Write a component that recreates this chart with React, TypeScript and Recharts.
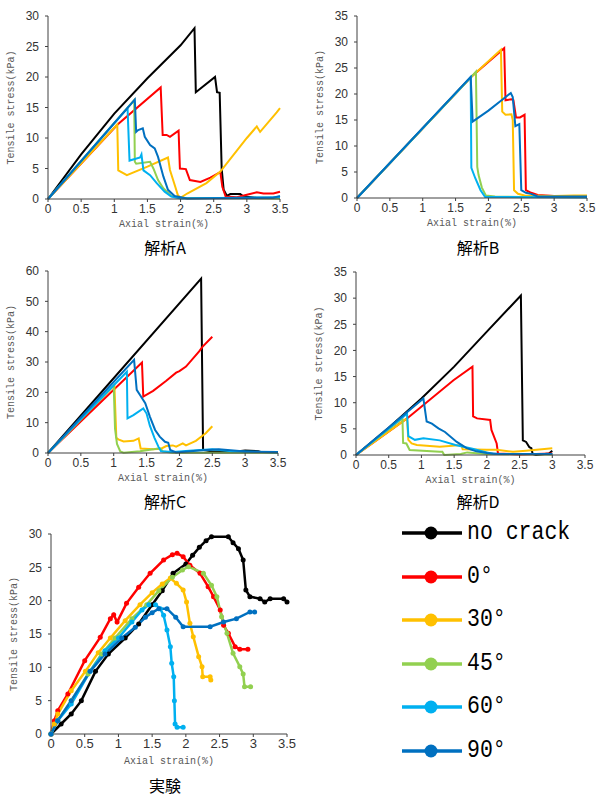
import React from "react";
import { LineChart, Line, XAxis, YAxis } from "recharts";

type Pt = [number, number];

// 解析A
const aNoCrack: Pt[] = [[0, 0], [0.5, 7.3], [1.0, 14], [1.5, 19.8], [2.0, 25.2], [2.21, 28], [2.23, 17.5], [2.52, 20], [2.55, 17.5], [2.59, 17.4], [2.62, 5], [2.65, 1.5], [2.7, 0.5], [2.75, 0.8], [2.9, 0.8], [2.95, 0.4], [3.15, 0.2], [3.5, 0.2]];
const aDeg0: Pt[] = [[0, 0], [1.05, 12.2], [1.7, 18.3], [1.73, 10.5], [1.79, 10.5], [1.84, 10.2], [1.97, 11.2], [1.99, 5], [2.08, 4.9], [2.14, 3.1], [2.3, 2.8], [2.45, 3.5], [2.6, 4.4], [2.63, 2], [2.68, 0.4], [2.85, 0.3], [3.0, 0.7], [3.15, 1.1], [3.25, 0.9], [3.4, 0.9], [3.5, 1.2]];
const aDeg30: Pt[] = [[0, 0], [1.045, 12.2], [1.06, 4.7], [1.19, 3.9], [1.5, 5.3], [1.81, 6.8], [1.84, 4.75], [1.92, 2.0], [1.96, 0.6], [2.0, 0.2], [2.1, 0.9], [2.39, 2.6], [2.6, 4.5], [3.0, 10], [3.15, 11.9], [3.2, 11.0], [3.45, 14.2], [3.5, 14.9]];
const aDeg45: Pt[] = [[0, 0], [1.3, 16.2], [1.31, 6.1], [1.33, 5.8], [1.54, 6.1], [1.59, 5.0], [1.66, 3.1], [1.74, 1.75], [1.86, 0.5], [2.0, 0.2], [3.5, 0.1]];
const aDeg60: Pt[] = [[0, 0], [1.2, 14.9], [1.23, 6.3], [1.39, 6.8], [1.41, 7.3], [1.44, 4.7], [1.54, 3.9], [1.64, 2.6], [1.76, 1.2], [1.86, 0.4], [2.0, 0.1], [3.5, 0.3]];
const aDeg90: Pt[] = [[0, 0], [1.31, 16.3], [1.33, 11], [1.36, 11.3], [1.43, 11.6], [1.46, 10.2], [1.54, 8.85], [1.61, 8.3], [1.66, 6.9], [1.74, 3.7], [1.81, 1.5], [1.91, 0.5], [2.1, 0.1], [3.4, 0.2], [3.5, 0.5]];

// 解析B
const bNoCrack: Pt[] = [];
const bDeg0: Pt[] = [[0, 0], [1.74, 23.3], [2.24, 28.8], [2.26, 18.8], [2.35, 19], [2.38, 18.8], [2.42, 15.5], [2.48, 15.5], [2.55, 16], [2.57, 1.5], [2.65, 1], [2.75, 0.6], [3.0, 0.4], [3.5, 0.4]];
const bDeg30: Pt[] = [[0, 0], [1.74, 23.3], [2.19, 28.5], [2.21, 16.6], [2.26, 16], [2.35, 16.1], [2.37, 15], [2.39, 1.5], [2.45, 0.8], [2.55, 0.5], [3.0, 0.4], [3.3, 0.5], [3.5, 0.5]];
const bDeg45: Pt[] = [[0, 0], [1.74, 23.3], [1.81, 24.3], [1.83, 6], [1.85, 4.4], [1.9, 2], [1.96, 0.5], [2.1, 0.3], [2.5, 0.2], [3.5, 0.2]];
const bDeg60: Pt[] = [[0, 0], [1.73, 23.2], [1.74, 5.8], [1.8, 3.8], [1.88, 1.5], [1.95, 0.2], [2.2, 0.2], [3.5, 0.1]];
const bDeg90: Pt[] = [[0, 0], [1.73, 23.3], [1.76, 14.7], [2.0, 16.8], [2.2, 18.8], [2.34, 20.2], [2.37, 19.4], [2.41, 13.8], [2.47, 14.2], [2.5, 1.5], [2.57, 1], [2.65, 0.8], [2.75, 0.3], [3.5, 0.3]];

// 解析C
const cNoCrack: Pt[] = [[0, 0], [2.33, 57.5], [2.36, 1], [2.5, 0.5], [2.9, 0.6], [3.0, 0.8], [3.2, 0.6], [3.25, 0.3], [3.5, 0.2]];
const cDeg0: Pt[] = [[0, 0], [1.43, 29.8], [1.45, 18.6], [1.6, 20.5], [1.8, 23.8], [1.95, 26.5], [2.0, 27], [2.1, 28.5], [2.3, 33.5], [2.35, 35], [2.5, 38.3]];
const cDeg30: Pt[] = [[0, 0], [1.01, 22.4], [1.04, 5], [1.07, 4.5], [1.15, 3.8], [1.3, 4], [1.38, 4.8], [1.41, 1.5], [1.6, 1.2], [1.72, 1.4], [1.8, 2.3], [1.9, 2.5], [1.95, 2.1], [2.05, 3.2], [2.1, 2.5], [2.25, 4], [2.4, 6.5], [2.5, 8.8]];
const cDeg45: Pt[] = [[0, 0], [1.0, 22.2], [1.02, 8], [1.05, 3], [1.1, 0.5], [1.15, 0.1], [1.4, 0.6], [1.6, 1.2], [1.7, 1.6], [1.75, 0.5], [1.9, 0.1], [3.5, 0.1]];
const cDeg60: Pt[] = [[0, 0], [1.2, 26.8], [1.21, 11.4], [1.3, 12.5], [1.45, 14.7], [1.5, 13], [1.55, 9], [1.62, 5], [1.68, 2.1], [1.72, 0.6], [1.9, 0.3], [2.2, 0.8], [2.5, 1.2], [2.8, 0.6], [3.5, 0.2]];
const cDeg90: Pt[] = [[0, 0], [1.31, 30.7], [1.35, 20.8], [1.4, 19.1], [1.48, 16.4], [1.55, 12], [1.63, 7.6], [1.7, 5.4], [1.78, 3.7], [1.83, 3.4], [1.86, 1.0], [1.95, 0.2], [2.3, 0.8], [2.6, 1.2], [3.0, 0.5], [3.5, 0.3]];

// 解析D
const dNoCrack: Pt[] = [[0, 0], [0.5, 5.2], [1.0, 10.8], [1.5, 16.9], [2.0, 23.6], [2.52, 30.5], [2.55, 2.8], [2.6, 2.5], [2.65, 1.5], [2.68, 1.3], [2.7, 0.2], [2.75, 0], [2.95, 0.3], [3.0, 0.8]];
const dDeg0: Pt[] = [[0, 0], [0.78, 7.0], [1.49, 14.3], [1.78, 16.9], [1.79, 7.4], [1.85, 7], [2.05, 6.7], [2.07, 4.8], [2.15, 2.2], [2.17, 0.3], [2.5, 0.1], [3.0, 0.3]];
const dDeg30: Pt[] = [[0, 0], [0.78, 7.0], [0.8, 2.9], [0.85, 2.2], [0.93, 1.9], [1.28, 1.6], [1.61, 1.9], [1.63, 1.1], [2.0, 1.0], [2.15, 1], [2.4, 0.6], [2.6, 0.8], [3.0, 1.3]];
const dDeg45: Pt[] = [[0, 0], [0.71, 7.0], [0.72, 2.3], [0.77, 2.2], [0.82, 0.95], [1.28, 0.6], [1.32, 0.6], [1.35, 0], [1.6, 0.2], [1.7, 0.5], [2.0, 0.2], [3.0, 0.1]];
const dDeg60: Pt[] = [[0, 0], [0.78, 7.9], [0.8, 3.6], [0.9, 2.9], [1.03, 3.2], [1.28, 2.8], [1.52, 1.9], [1.78, 1.2], [2.0, 0.5], [2.1, 0.2], [3.0, 0.2]];
const dDeg90: Pt[] = [[0, 0], [1.03, 10.8], [1.08, 6.4], [1.16, 6.0], [1.26, 5.1], [1.36, 4.4], [1.54, 2.5], [1.69, 1.3], [1.84, 0.7], [2.0, 0.4], [2.2, 0.2], [3.0, 0.2]];

// 実験
const eNoCrack: Pt[] = [[0, 0], [0.15, 1.5], [0.3, 3], [0.45, 5], [0.66, 9.4], [0.85, 12], [1.1, 14.4], [1.3, 16.5], [1.5, 19.4], [1.65, 21.5], [1.81, 24.1], [2.0, 25.5], [2.1, 26.8], [2.2, 28], [2.3, 29], [2.38, 29.6], [2.63, 29.6], [2.7, 28.7], [2.78, 27.8], [2.85, 26.1], [2.89, 21.6], [2.95, 20.6], [3.1, 20.3], [3.17, 19.8], [3.25, 20.3], [3.45, 20.3], [3.5, 19.8]];
const eDeg0: Pt[] = [[0, 0], [0.05, 2], [0.1, 3.5], [0.25, 6], [0.5, 11], [0.73, 14.5], [0.88, 17.3], [0.93, 17.9], [0.98, 16.8], [1.12, 19.6], [1.3, 22], [1.47, 24.1], [1.67, 26.1], [1.8, 26.9], [1.87, 27.1], [1.96, 26.6], [2.06, 25.3], [2.21, 24.1], [2.33, 22.1], [2.41, 20.6], [2.51, 18.6], [2.56, 16.3], [2.63, 15.1], [2.73, 13.1], [2.8, 12.7], [2.92, 12.7]];
const eDeg30: Pt[] = [[0, 0], [0.05, 1.5], [0.1, 3], [0.3, 6.5], [0.51, 9.4], [0.7, 12.2], [0.88, 14.4], [1.1, 17], [1.32, 19.4], [1.5, 21.2], [1.65, 22.5], [1.77, 23.4], [1.86, 22.6], [1.96, 21.6], [2.01, 19.8], [2.06, 16.6], [2.11, 14.6], [2.19, 11.6], [2.24, 10.1], [2.25, 8.6], [2.36, 8.6], [2.37, 8.1]];
const eDeg45: Pt[] = [[0, 0], [0.1, 2], [0.3, 5], [0.55, 9], [0.75, 12], [0.95, 14.4], [1.2, 17.3], [1.42, 19.4], [1.6, 21.5], [1.8, 23.5], [1.95, 24.6], [2.04, 25.1], [2.26, 24.1], [2.38, 22.3], [2.46, 20.6], [2.53, 17.6], [2.61, 15.1], [2.7, 12.1], [2.8, 10.1], [2.85, 9], [2.87, 7.1], [2.96, 7.1]];
const eDeg60: Pt[] = [[0, 0], [0.1, 2], [0.3, 4.5], [0.58, 9.4], [0.8, 12.5], [1.0, 14.4], [1.2, 16.8], [1.35, 18.6], [1.45, 19.4], [1.55, 19.4], [1.62, 18.8], [1.67, 17.8], [1.72, 15.6], [1.77, 13.1], [1.79, 10.6], [1.82, 8.6], [1.83, 5], [1.84, 1.5], [1.87, 1], [1.96, 1]];
const eDeg90: Pt[] = [[0, 0], [0.1, 2], [0.3, 5], [0.58, 9.4], [0.8, 12], [1.05, 14.4], [1.25, 16], [1.4, 17.5], [1.5, 18.2], [1.6, 18.8], [1.72, 18.8], [1.85, 17.5], [1.96, 16.1], [2.36, 16.1], [2.56, 16.8], [2.75, 17.3], [2.95, 18.3], [3.02, 18.3]];

const strainTicks = [0, 0.5, 1, 1.5, 2, 2.5, 3, 3.5];
const stressTicks30 = [0, 5, 10, 15, 20, 25, 30];
const stressTicks35 = [0, 5, 10, 15, 20, 25, 30, 35];
const stressTicks60 = [0, 10, 20, 30, 40, 50, 60];

const seriesNames = ["no crack", "0°", "30°", "45°", "60°", "90°"];
const seriesColors = ["#000000", "#FF0000", "#FFC000", "#92D050", "#00B0F0", "#0070C0"];

const tickFont = '"Liberation Sans Narrow", "Liberation Sans", Arial, sans-serif';
const monoFont = '"Liberation Mono", "DejaVu Sans Mono", monospace';
const cjkFont = '"Noto Sans CJK JP", sans-serif';

interface PanelProps {
  left: number;
  top: number;
  width: number;
  height: number;
  plot: { x0: number; x1: number; y0: number; y1: number };
  yMax: number;
  yTicks: number[];
  series: Pt[][];
  markers?: boolean;
  xAxisHeight?: number;
}

function Panel({ left, top, width, height, plot, yMax, yTicks, series, markers = false, xAxisHeight = 30 }: PanelProps) {
  const yAxisWidth = plot.x0 - left;
  const margin = {
    top: plot.y0 - top,
    left: 0,
    right: left + width - plot.x1,
    bottom: top + height - plot.y1 - xAxisHeight,
  };
  return (
    <div style={{ position: "absolute", left, top }}>
      <LineChart width={width} height={height} margin={margin}>
        <XAxis
          type="number"
          dataKey="x"
          domain={[0, 3.5]}
          ticks={strainTicks}
          interval={0}
          height={xAxisHeight}
          tickSize={3}
          tickMargin={2}
          stroke="#404040"
          tick={{ fontSize: markers ? 13 : 12, fill: "#333", fontFamily: tickFont }}
          label={{ value: "Axial strain(%)", position: "insideBottom", offset: 2, style: { fontSize: 10, fill: "#595959", fontFamily: monoFont } }}
        />
        <YAxis
          type="number"
          domain={[0, yMax]}
          ticks={yTicks}
          interval={0}
          width={yAxisWidth}
          tickSize={3}
          tickMargin={6}
          stroke="#404040"
          tick={{ fontSize: 12, fill: "#333", fontFamily: tickFont }}
          label={{ value: "Tensile stress(kPa)", angle: -90, position: "insideLeft", offset: yAxisWidth - 38, style: { textAnchor: "middle", fontSize: 10, fill: "#595959", fontFamily: monoFont } }}
        />
        {series.map((pts, i) =>
          pts.length ? (
            <Line
              key={seriesNames[i]}
              data={pts.map(([x, y]) => ({ x, y }))}
              dataKey="y"
              name={seriesNames[i]}
              type="linear"
              stroke={seriesColors[i]}
              strokeWidth={markers ? 2.5 : 2}
              dot={markers ? { r: 2.5, fill: seriesColors[i], stroke: seriesColors[i], strokeWidth: 0 } : false}
              isAnimationActive={false}
            />
          ) : null
        )}
      </LineChart>
    </div>
  );
}

function Caption({ text, cx, cy }: { text: string; cx: number; cy: number }) {
  return (
    <div
      style={{
        position: "absolute",
        left: cx - 60,
        top: cy - 9,
        width: 120,
        height: 18,
        lineHeight: "18px",
        textAlign: "center",
        fontSize: 16,
        fontFamily: cjkFont,
        color: "#000",
      }}
    >
      {text}
    </div>
  );
}

function LegendBox() {
  const rowY = [533, 577, 620, 664, 707, 751];
  return (
    <>
      {seriesNames.map((name, i) => (
        <div key={name} style={{ position: "absolute", left: 400, top: rowY[i] - 15, height: 30, display: "flex", alignItems: "center" }}>
          <svg width={64} height={30}>
            <line x1={2} y1={15} x2={62} y2={15} stroke={seriesColors[i]} strokeWidth={3.5} />
            <circle cx={31} cy={15} r={6.5} fill={seriesColors[i]} />
          </svg>
          <span
            style={{
              display: "inline-block",
              fontFamily: monoFont,
              fontSize: 25,
              lineHeight: "30px",
              color: "#000",
              transform: "scaleX(0.86)",
              transformOrigin: "left center",
              whiteSpace: "nowrap",
              marginLeft: 3,
            }}
          >
            {name}
          </span>
        </div>
      ))}
    </>
  );
}

export default function App() {
  return (
    <div style={{ position: "absolute", left: 0, top: 0, width: 596, height: 796, background: "#fff", overflow: "hidden" }}>
      <Panel left={0} top={0} width={300} height={235} plot={{ x0: 48, x1: 280, y0: 16, y1: 199 }} yMax={30} yTicks={stressTicks30}
        series={[aNoCrack, aDeg0, aDeg30, aDeg45, aDeg60, aDeg90]} />
      <Panel left={300} top={0} width={296} height={235} plot={{ x0: 357, x1: 587, y0: 16, y1: 198 }} yMax={35} yTicks={stressTicks35}
        series={[bNoCrack, bDeg0, bDeg30, bDeg45, bDeg60, bDeg90]} />
      <Panel left={0} top={255} width={300} height={235} plot={{ x0: 48, x1: 278, y0: 271, y1: 453 }} yMax={60} yTicks={stressTicks60}
        series={[cNoCrack, cDeg0, cDeg30, cDeg45, cDeg60, cDeg90]} />
      <Panel left={300} top={255} width={296} height={235} plot={{ x0: 356, x1: 585, y0: 272, y1: 455 }} yMax={35} yTicks={stressTicks35}
        series={[dNoCrack, dDeg0, dDeg30, dDeg45, dDeg60, dDeg90]} />
      <Panel left={0} top={510} width={300} height={263} plot={{ x0: 51, x1: 287, y0: 534, y1: 734 }} yMax={30} yTicks={stressTicks30}
        series={[eNoCrack, eDeg0, eDeg30, eDeg45, eDeg60, eDeg90]} markers xAxisHeight={32} />
      <Caption text="解析A" cx={165} cy={247} />
      <Caption text="解析B" cx={478} cy={247} />
      <Caption text="解析C" cx={165} cy={501} />
      <Caption text="解析D" cx={478} cy={501} />
      <Caption text="実験" cx={165} cy={785} />
      <LegendBox />
    </div>
  );
}
